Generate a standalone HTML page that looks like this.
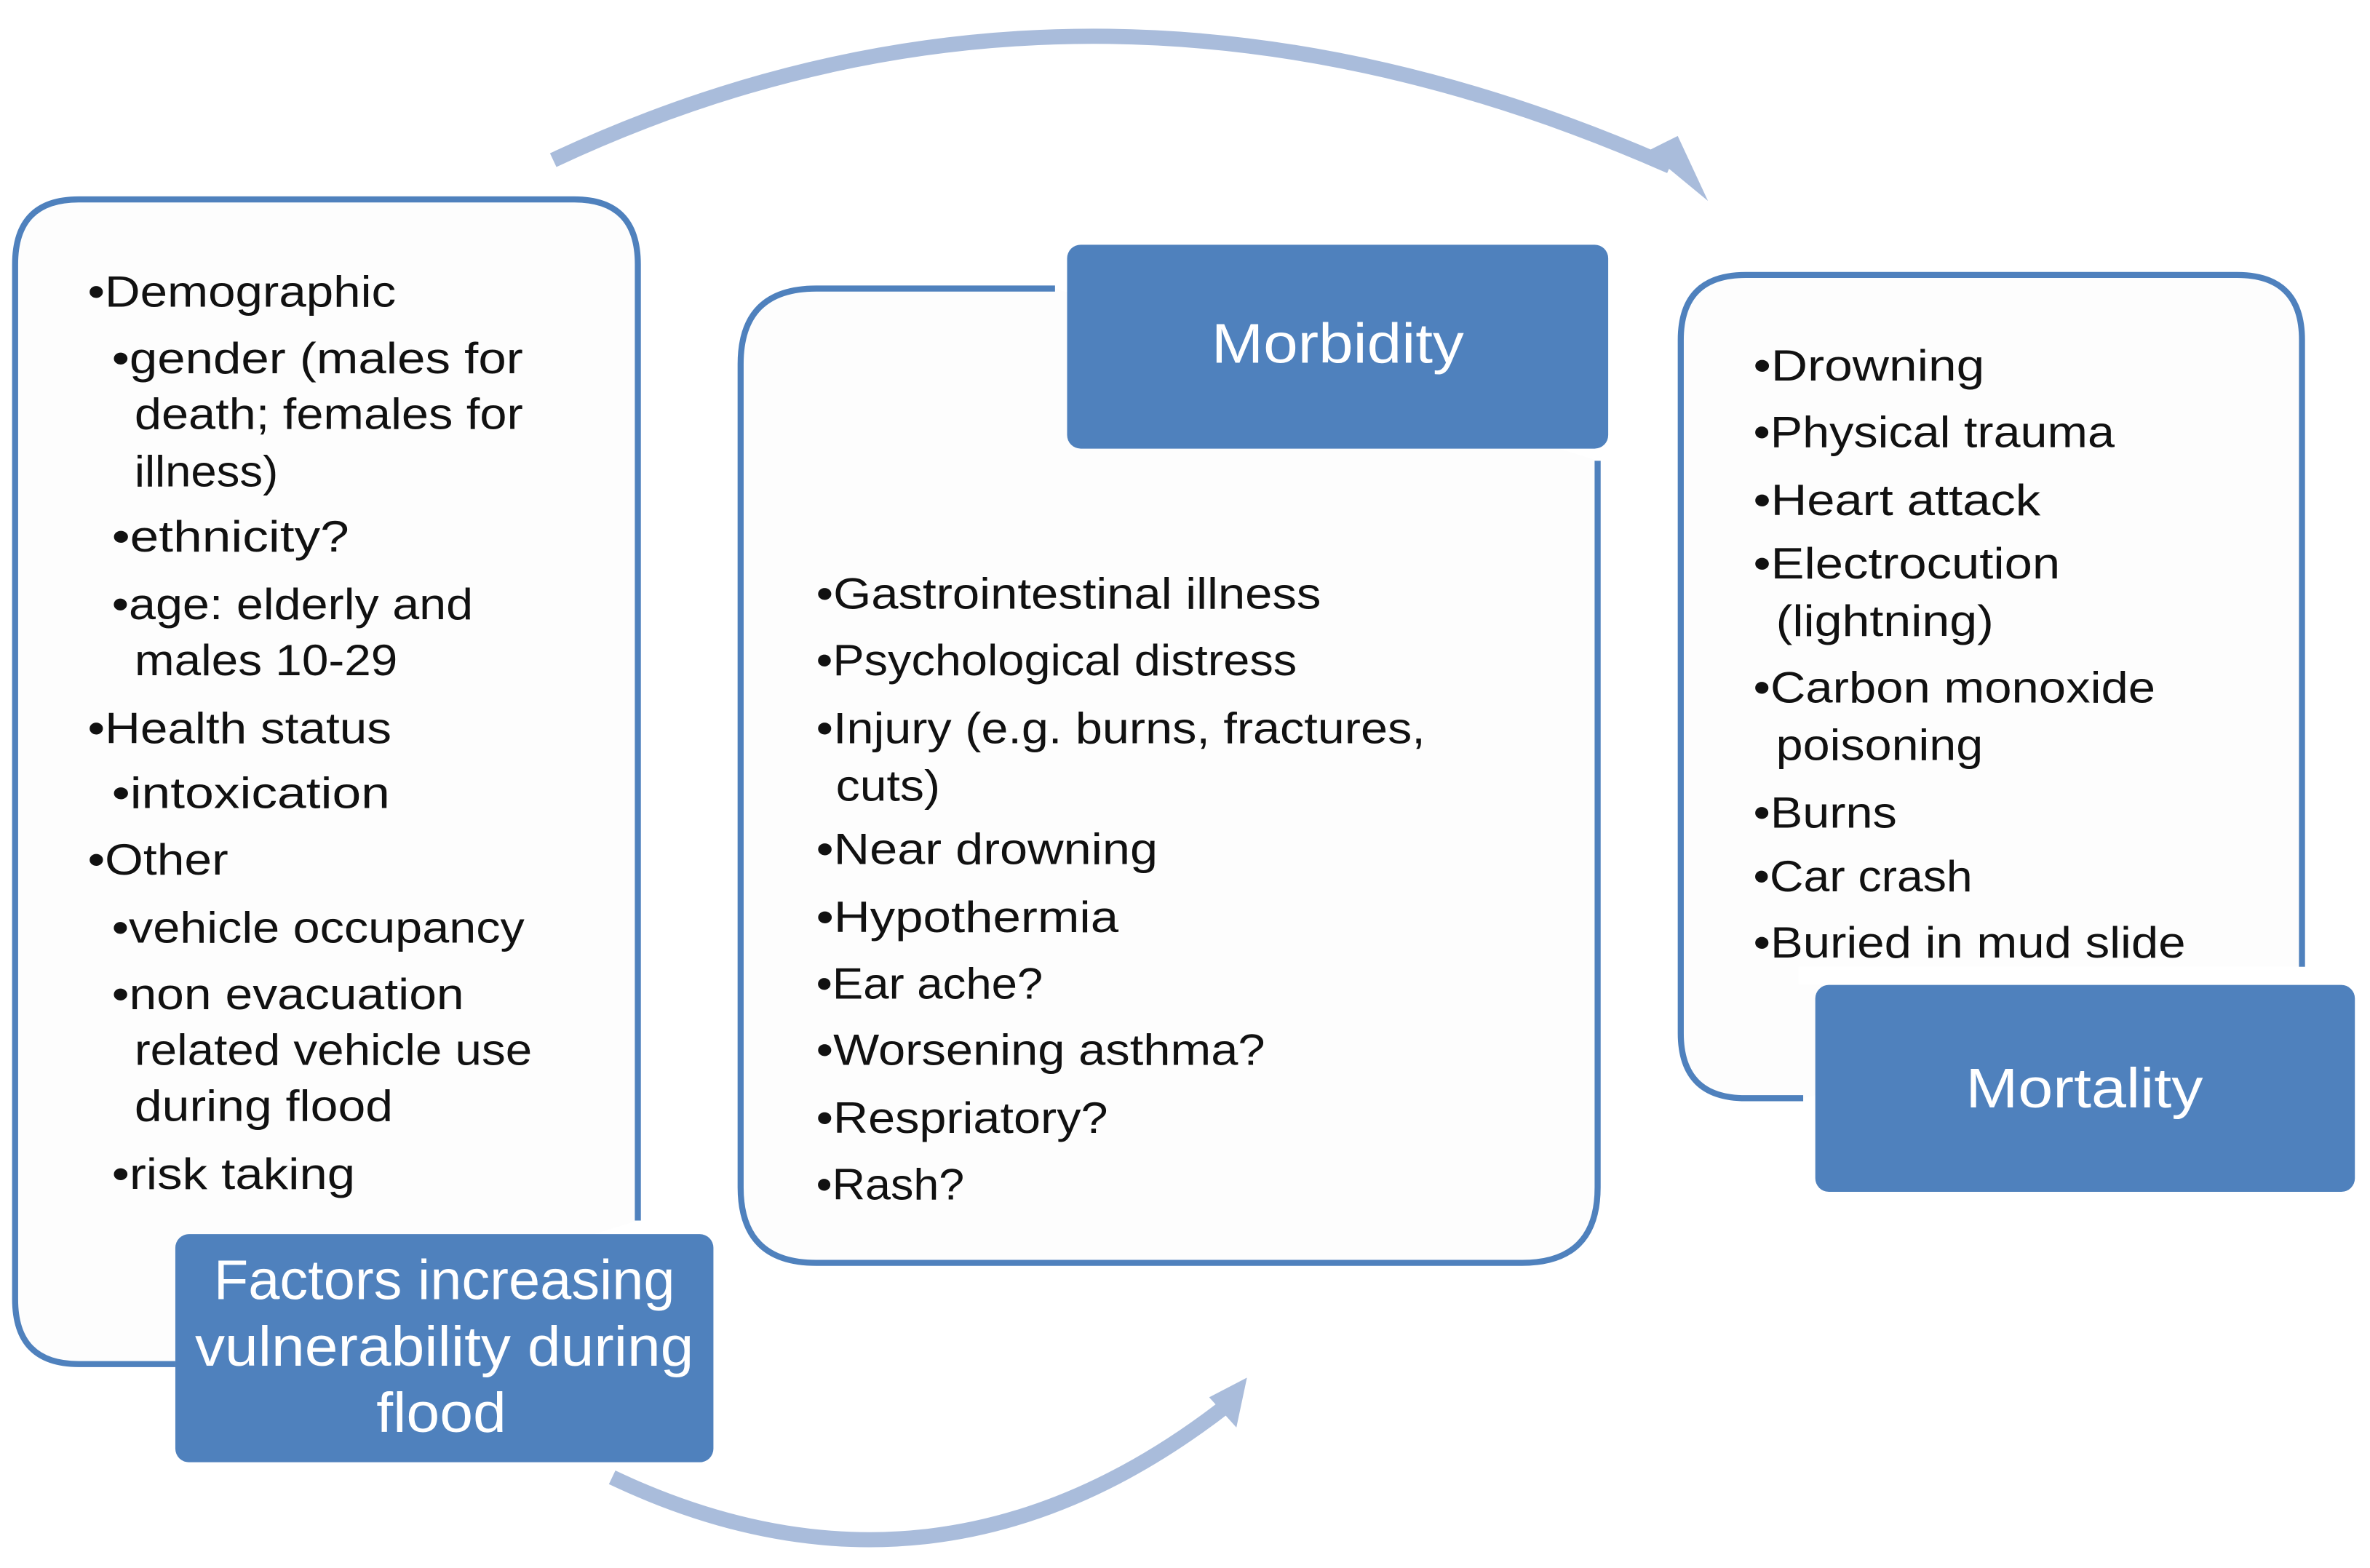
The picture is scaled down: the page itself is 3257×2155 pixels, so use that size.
<!DOCTYPE html>
<html><head><meta charset="utf-8"><style>
html,body{margin:0;padding:0;background:#fff;}
svg{display:block;}
text{font-family:"Liberation Sans",sans-serif;}
.t{font-size:29px;fill:#111;}
.w{font-size:37px;fill:#fff;}
</style></head><body>
<svg width="3257" height="2155" viewBox="0 0 1568 1038" preserveAspectRatio="none" xmlns="http://www.w3.org/2000/svg">
<!-- arcs -->
<path d="M366 106 Q720 -60 1105 110" fill="none" stroke="#a9bcdb" stroke-width="10"/>
<polygon points="1090,100 1130,133 1110,90" fill="#a9bcdb"/>
<path d="M405 978 Q620 1080 812 930" fill="none" stroke="#a9bcdb" stroke-width="10"/>
<polygon points="800,925 825,912 818,945" fill="#a9bcdb"/>

<!-- left box -->
<path d="M116 903 L52 903 Q10 903 10 860 L10 175 Q10 132 52 132 L380 132 Q422 132 422 175 L422 808" fill="#fdfdfd" stroke="#4f81bd" stroke-width="4"/>
<rect x="116" y="817" width="356" height="151" rx="9" fill="#4f81bd"/>
<text class="w" x="294" y="860" text-anchor="middle" textLength="305" lengthAdjust="spacingAndGlyphs">Factors increasing</text>
<text class="w" x="294" y="904" text-anchor="middle" textLength="330" lengthAdjust="spacingAndGlyphs">vulnerability during</text>
<text class="w" x="292" y="948" text-anchor="middle" textLength="86" lengthAdjust="spacingAndGlyphs">flood</text>

<g class="t">
<text x="58" y="203" textLength="204" lengthAdjust="spacingAndGlyphs">•Demographic</text>
<text x="74" y="247" textLength="272" lengthAdjust="spacingAndGlyphs">•gender  (males for</text>
<text x="89" y="284" textLength="257" lengthAdjust="spacingAndGlyphs">death; females for</text>
<text x="89" y="322" textLength="95" lengthAdjust="spacingAndGlyphs">illness)</text>
<text x="74" y="365" textLength="157" lengthAdjust="spacingAndGlyphs">•ethnicity?</text>
<text x="74" y="410" textLength="239" lengthAdjust="spacingAndGlyphs">•age: elderly and</text>
<text x="89" y="447" textLength="174" lengthAdjust="spacingAndGlyphs">males 10-29</text>
<text x="58" y="492" textLength="201" lengthAdjust="spacingAndGlyphs">•Health status</text>
<text x="74" y="535" textLength="184" lengthAdjust="spacingAndGlyphs">•intoxication</text>
<text x="58" y="579" textLength="93" lengthAdjust="spacingAndGlyphs">•Other</text>
<text x="74" y="624" textLength="273" lengthAdjust="spacingAndGlyphs">•vehicle occupancy</text>
<text x="74" y="668" textLength="233" lengthAdjust="spacingAndGlyphs">•non evacuation</text>
<text x="89" y="705" textLength="263" lengthAdjust="spacingAndGlyphs">related vehicle use</text>
<text x="89" y="742" textLength="171" lengthAdjust="spacingAndGlyphs">during flood</text>
<text x="74" y="787" textLength="161" lengthAdjust="spacingAndGlyphs">•risk taking</text>
</g>

<!-- middle box -->
<path d="M698 191 L540 191 Q490 191 490 241 L490 786 Q490 836 540 836 L1007 836 Q1057 836 1057 786 L1057 305" fill="#fdfdfd" stroke="#4f81bd" stroke-width="4"/>
<rect x="706" y="162" width="358" height="135" rx="9" fill="#4f81bd"/>
<text class="w" x="885" y="240" text-anchor="middle" textLength="167" lengthAdjust="spacingAndGlyphs">Morbidity</text>
<g class="t">
<text x="540" y="403" textLength="334" lengthAdjust="spacingAndGlyphs">•Gastrointestinal illness</text>
<text x="540" y="447" textLength="318" lengthAdjust="spacingAndGlyphs">•Psychological distress</text>
<text x="540" y="492" textLength="403" lengthAdjust="spacingAndGlyphs">•Injury (e.g. burns, fractures,</text>
<text x="553" y="530" textLength="69" lengthAdjust="spacingAndGlyphs">cuts)</text>
<text x="540" y="572" textLength="226" lengthAdjust="spacingAndGlyphs">•Near drowning</text>
<text x="540" y="617" textLength="200" lengthAdjust="spacingAndGlyphs">•Hypothermia</text>
<text x="540" y="661" textLength="150" lengthAdjust="spacingAndGlyphs">•Ear ache?</text>
<text x="540" y="705" textLength="297" lengthAdjust="spacingAndGlyphs">•Worsening asthma?</text>
<text x="540" y="750" textLength="193" lengthAdjust="spacingAndGlyphs">•Respriatory?</text>
<text x="540" y="794" textLength="98" lengthAdjust="spacingAndGlyphs">•Rash?</text>
</g>

<!-- right box -->
<path d="M1193 727 L1155 727 Q1112 727 1112 684 L1112 225 Q1112 182 1155 182 L1480 182 Q1523 182 1523 225 L1523 645" fill="#fdfdfd" stroke="#4f81bd" stroke-width="4"/>
<g class="t">
<text x="1160" y="252" textLength="153" lengthAdjust="spacingAndGlyphs">•Drowning</text>
<text x="1160" y="296" textLength="239" lengthAdjust="spacingAndGlyphs">•Physical trauma</text>
<text x="1160" y="341" textLength="190" lengthAdjust="spacingAndGlyphs">•Heart attack</text>
<text x="1160" y="383" textLength="203" lengthAdjust="spacingAndGlyphs">•Electrocution</text>
<text x="1175" y="421" textLength="144" lengthAdjust="spacingAndGlyphs">(lightning)</text>
<text x="1160" y="465" textLength="266" lengthAdjust="spacingAndGlyphs">•Carbon monoxide</text>
<text x="1175" y="503" textLength="137" lengthAdjust="spacingAndGlyphs">poisoning</text>
<text x="1160" y="548" textLength="95" lengthAdjust="spacingAndGlyphs">•Burns</text>
<text x="1160" y="590" textLength="145" lengthAdjust="spacingAndGlyphs">•Car crash</text>
<text x="1160" y="634" textLength="286" lengthAdjust="spacingAndGlyphs">•Buried in mud slide</text>
</g>
<rect x="1190" y="640" width="340" height="12" fill="#fff"/>
<rect x="1201" y="652" width="357" height="137" rx="9" fill="#4f81bd"/>
<text class="w" x="1379" y="733" text-anchor="middle" textLength="157" lengthAdjust="spacingAndGlyphs">Mortality</text>
</svg>
</body></html>
